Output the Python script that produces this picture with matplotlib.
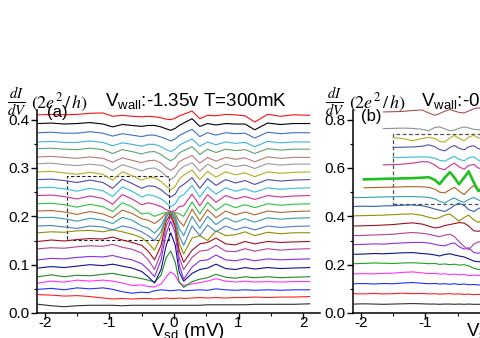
"""Stacked dI/dV traces vs source-drain bias, two panels (b is cut at the right edge)."""

import numpy as np
import matplotlib
matplotlib.use("Agg")
import matplotlib.pyplot as plt
from matplotlib.patches import Rectangle
from matplotlib.ticker import MultipleLocator, FormatStrFormatter

plt.rcParams["font.family"] = ["Liberation Sans", "DejaVu Sans"]
plt.rcParams["axes.unicode_minus"] = False
plt.rcParams["mathtext.fontset"] = "custom"
plt.rcParams["mathtext.rm"] = "Liberation Sans"
plt.rcParams["mathtext.it"] = "Liberation Sans:italic"
plt.rcParams["mathtext.bf"] = "Liberation Sans:bold"

nan = np.nan

# ---- panel (a): Vwall = -1.35 V, bottom trace first ----
vsd_a = [-2.1, -1.9, -1.7, -1.5, -1.3, -1.1, -0.95, -0.8, -0.65, -0.5,
         -0.4, -0.3, -0.2, -0.12, -0.05, 0.02, 0.08, 0.15, 0.28, 0.4,
         0.52, 0.65, 0.8, 0.95, 1.1, 1.25, 1.45, 1.65, 1.85, 2.1]

traces_a = [
    [0.018, 0.015, 0.013, 0.015, 0.016, 0.016, 0.016, 0.015, 0.016, 0.016, 0.016, 0.016, 0.016, 0.016, 0.016,
     0.016, 0.016, 0.016, 0.016, 0.016, 0.017, 0.017, 0.017, 0.017, 0.017, 0.018, 0.018, 0.018, 0.018, 0.019],
    [0.038, 0.037, 0.035, 0.036, 0.034, 0.031, 0.029, 0.030, 0.029, 0.030, 0.030, 0.029, 0.030, 0.031, 0.030,
     0.030, 0.031, 0.030, 0.031, 0.032, 0.031, 0.032, 0.031, 0.032, 0.032, 0.033, 0.032, 0.033, 0.033, 0.034],
    [0.049, 0.051, 0.048, 0.052, 0.050, 0.052, 0.049, 0.044, 0.041, 0.043, 0.042, 0.046, 0.048, 0.047, 0.046,
     0.047, 0.048, 0.046, 0.047, 0.048, 0.047, 0.050, 0.048, 0.047, 0.048, 0.047, 0.048, 0.047, 0.048, 0.048],
    [0.062, 0.066, 0.064, 0.068, 0.066, 0.068, 0.066, 0.062, 0.057, 0.058, 0.055, 0.054, 0.060, 0.075, 0.085,
     0.078, 0.062, 0.057, 0.060, 0.063, 0.066, 0.071, 0.066, 0.064, 0.066, 0.064, 0.065, 0.064, 0.065, 0.065],
    [0.075, 0.079, 0.075, 0.078, 0.077, 0.080, 0.082, 0.078, 0.075, 0.071, 0.068, 0.064, 0.078, 0.115, 0.128,
     0.105, 0.065, 0.053, 0.065, 0.070, 0.073, 0.080, 0.074, 0.072, 0.075, 0.073, 0.075, 0.073, 0.074, 0.075],
    [0.093, 0.096, 0.094, 0.097, 0.100, 0.098, 0.101, 0.097, 0.093, 0.086, 0.075, 0.062, 0.090, 0.140, 0.166,
     0.140, 0.085, 0.066, 0.082, 0.090, 0.093, 0.101, 0.092, 0.090, 0.094, 0.091, 0.094, 0.092, 0.093, 0.094],
    [0.110, 0.113, 0.112, 0.115, 0.117, 0.116, 0.119, 0.114, 0.110, 0.102, 0.090, 0.075, 0.110, 0.165, 0.190,
     0.165, 0.100, 0.070, 0.095, 0.108, 0.110, 0.120, 0.110, 0.108, 0.112, 0.108, 0.112, 0.110, 0.111, 0.112],
    [0.133, 0.135, 0.134, 0.137, 0.139, 0.138, 0.142, 0.136, 0.132, 0.124, 0.110, 0.090, 0.125, 0.180, 0.200,
     0.175, 0.115, 0.090, 0.115, 0.128, 0.130, 0.140, 0.128, 0.127, 0.133, 0.128, 0.133, 0.130, 0.132, 0.133],
    [0.148, 0.151, 0.149, 0.152, 0.154, 0.153, 0.157, 0.151, 0.146, 0.140, 0.128, 0.110, 0.140, 0.190, 0.205,
     0.180, 0.130, 0.105, 0.130, 0.143, 0.146, 0.155, 0.143, 0.141, 0.148, 0.143, 0.148, 0.146, 0.147, 0.148],
    [0.166, 0.168, 0.167, 0.170, 0.171, 0.168, 0.172, 0.168, 0.163, 0.156, 0.145, 0.130, 0.158, 0.198, 0.210,
     0.188, 0.145, 0.122, 0.155, 0.160, 0.150, 0.170, 0.160, 0.162, 0.168, 0.160, 0.167, 0.164, 0.166, 0.166],
    [0.180, 0.181, 0.178, 0.175, 0.180, 0.178, 0.172, 0.180, 0.176, 0.168, 0.160, 0.150, 0.168, 0.200, 0.210,
     0.195, 0.160, 0.140, 0.180, 0.160, 0.182, 0.168, 0.180, 0.172, 0.178, 0.172, 0.180, 0.177, 0.179, 0.180],
    [0.197, 0.198, 0.195, 0.190, 0.196, 0.192, 0.185, 0.198, 0.192, 0.180, 0.176, 0.165, 0.180, 0.203, 0.210,
     0.200, 0.175, 0.160, 0.200, 0.175, 0.200, 0.183, 0.197, 0.188, 0.195, 0.188, 0.197, 0.194, 0.196, 0.197],
    [0.211, 0.212, 0.209, 0.204, 0.210, 0.205, 0.197, 0.213, 0.206, 0.195, 0.192, 0.185, 0.195, 0.207, 0.210,
     0.205, 0.190, 0.180, 0.215, 0.190, 0.214, 0.197, 0.211, 0.203, 0.209, 0.203, 0.211, 0.208, 0.210, 0.211],
    [0.226, 0.227, 0.224, 0.219, 0.225, 0.220, 0.210, 0.228, 0.220, 0.205, 0.207, 0.200, 0.205, 0.208, 0.210,
     0.208, 0.205, 0.200, 0.230, 0.205, 0.229, 0.212, 0.226, 0.218, 0.224, 0.218, 0.226, 0.223, 0.225, 0.226],
    [0.243, 0.244, 0.241, 0.236, 0.242, 0.237, 0.225, 0.245, 0.236, 0.224, 0.228, 0.225, 0.220, 0.214, 0.210,
     0.212, 0.220, 0.222, 0.246, 0.222, 0.245, 0.229, 0.243, 0.236, 0.241, 0.235, 0.243, 0.240, 0.242, 0.243],
    [0.259, 0.260, 0.257, 0.252, 0.258, 0.253, 0.241, 0.261, 0.252, 0.240, 0.245, 0.242, 0.236, 0.228, 0.220,
     0.226, 0.240, 0.245, 0.264, 0.240, 0.261, 0.246, 0.259, 0.252, 0.257, 0.250, 0.259, 0.256, 0.258, 0.259],
    [0.276, 0.277, 0.274, 0.270, 0.275, 0.270, 0.258, 0.277, 0.268, 0.258, 0.263, 0.262, 0.255, 0.246, 0.240,
     0.246, 0.260, 0.266, 0.280, 0.258, 0.278, 0.264, 0.276, 0.269, 0.274, 0.266, 0.276, 0.273, 0.275, 0.276],
    [0.292, 0.293, 0.290, 0.287, 0.291, 0.287, 0.275, 0.292, 0.284, 0.275, 0.280, 0.280, 0.272, 0.262, 0.255,
     0.262, 0.277, 0.285, 0.296, 0.276, 0.293, 0.281, 0.292, 0.286, 0.290, 0.282, 0.292, 0.289, 0.291, 0.292],
    [0.309, 0.310, 0.307, 0.305, 0.308, 0.305, 0.295, 0.307, 0.301, 0.294, 0.299, 0.300, 0.293, 0.283, 0.276,
     0.283, 0.296, 0.303, 0.311, 0.293, 0.308, 0.298, 0.308, 0.303, 0.306, 0.299, 0.309, 0.306, 0.308, 0.308],
    [0.323, 0.324, 0.322, 0.320, 0.323, 0.320, 0.312, 0.321, 0.316, 0.311, 0.315, 0.316, 0.310, 0.301, 0.295,
     0.301, 0.313, 0.318, 0.326, 0.310, 0.322, 0.314, 0.322, 0.318, 0.321, 0.313, 0.323, 0.320, 0.322, 0.322],
    [0.340, 0.341, 0.339, 0.338, 0.341, 0.338, 0.330, 0.338, 0.334, 0.329, 0.333, 0.334, 0.328, 0.320, 0.315,
     0.321, 0.331, 0.336, 0.344, 0.328, 0.339, 0.332, 0.339, 0.336, 0.338, 0.330, 0.340, 0.337, 0.339, 0.339],
    [0.354, 0.355, 0.353, 0.353, 0.356, 0.353, 0.346, 0.352, 0.349, 0.345, 0.349, 0.349, 0.344, 0.338, 0.334,
     0.339, 0.347, 0.352, 0.360, 0.345, 0.354, 0.348, 0.354, 0.351, 0.353, 0.344, 0.355, 0.352, 0.354, 0.354],
    [0.373, 0.374, 0.372, 0.372, 0.375, 0.372, 0.366, 0.371, 0.368, 0.365, 0.368, 0.368, 0.364, 0.360, 0.356,
     0.360, 0.367, 0.372, 0.380, 0.365, 0.373, 0.368, 0.373, 0.371, 0.372, 0.362, 0.374, 0.371, 0.373, 0.373],
    [0.392, 0.393, 0.391, 0.392, 0.394, 0.391, 0.385, 0.390, 0.388, 0.386, 0.388, 0.388, 0.385, 0.381, 0.378,
     0.382, 0.388, 0.393, 0.402, 0.386, 0.392, 0.389, 0.392, 0.391, 0.391, 0.379, 0.393, 0.390, 0.392, 0.392],
    [0.410, 0.411, 0.410, 0.411, 0.413, 0.414, 0.407, 0.409, 0.407, 0.406, 0.407, 0.406, 0.404, 0.401, 0.400,
     0.403, 0.408, 0.411, 0.418, 0.402, 0.409, 0.408, 0.411, 0.410, 0.408, 0.395, 0.411, 0.407, 0.410, 0.409],
]

colors_a = ["#303030", "#ff2020", "#2030ff", "#ff30ff", "#208a20", "#101090", "#8a2be2", "#b040a0",
            "#a01020", "#909000", "#4a7fc0", "#3a9aa8", "#b0682a", "#30c040", "#d03090", "#30c0d8",
            "#4a4ab0", "#b0b020", "#9a9a9a", "#b87a7a", "#60a070", "#40b0e0", "#3f6fc8", "#000000",
            "#ff1010"]

# ---- panel (b) ----
vsd_b = [-2.1, -1.95, -1.8, -1.65, -1.5, -1.35, -1.2, -1.05, -0.95, -0.85,
         -0.78, -0.7, -0.62, -0.55, -0.48, -0.4, -0.33, -0.25, -0.18, -0.1]

traces_b = [
    [0.037, 0.038, 0.037, 0.036, 0.037, 0.038, 0.039, 0.038, 0.037, 0.037, 0.036, 0.037, 0.037, 0.036, 0.037, 0.036, 0.037, 0.036, 0.036, 0.036],
    [0.080, 0.079, 0.081, 0.079, 0.080, 0.082, 0.080, 0.081, 0.079, 0.080, 0.078, 0.079, 0.080, 0.078, 0.079, 0.077, 0.078, 0.076, 0.077, 0.076],
    [0.121, 0.122, 0.120, 0.122, 0.121, 0.124, 0.126, 0.123, 0.121, 0.122, 0.120, 0.121, 0.119, 0.121, 0.118, 0.120, 0.117, 0.118, 0.116, 0.117],
    [0.162, 0.163, 0.162, 0.164, 0.165, 0.168, 0.170, 0.166, 0.163, 0.164, 0.161, 0.162, 0.159, 0.161, 0.158, 0.160, 0.155, 0.157, 0.155, 0.156],
    [0.204, 0.205, 0.207, 0.206, 0.205, 0.207, 0.208, 0.206, 0.204, 0.205, 0.201, 0.203, 0.200, 0.202, 0.198, 0.200, 0.195, 0.185, 0.180, 0.182],
    [0.243, 0.244, 0.246, 0.245, 0.247, 0.249, 0.250, 0.246, 0.244, 0.240, 0.236, 0.242, 0.245, 0.240, 0.236, 0.232, 0.224, 0.215, 0.212, 0.216],
    [0.283, 0.284, 0.286, 0.285, 0.288, 0.290, 0.292, 0.292, 0.290, 0.284, 0.280, 0.278, 0.286, 0.290, 0.275, 0.264, 0.270, 0.250, 0.247, 0.255],
    [0.320, 0.321, 0.323, 0.324, 0.326, 0.330, 0.333, 0.330, 0.326, 0.320, 0.316, 0.322, 0.326, 0.316, 0.296, 0.275, 0.262, 0.285, 0.295, 0.290],
    [0.360, 0.361, 0.362, 0.364, 0.366, 0.370, 0.373, 0.368, 0.360, 0.352, 0.355, 0.362, 0.366, 0.370, 0.374, 0.372, 0.360, 0.340, 0.338, 0.345],
    [0.402, 0.403, 0.404, 0.405, 0.407, 0.409, 0.410, 0.404, 0.396, 0.390, 0.395, 0.405, 0.410, 0.395, 0.380, 0.395, 0.405, 0.385, 0.375, 0.385],
    [0.441, 0.442, 0.441, 0.443, 0.444, 0.446, 0.447, 0.444, 0.438, 0.430, 0.425, 0.420, 0.432, 0.445, 0.455, 0.445, 0.428, 0.420, 0.432, 0.440],
    [0.478, 0.478, 0.479, 0.480, 0.481, 0.482, 0.482, 0.480, 0.478, 0.472, 0.462, 0.455, 0.468, 0.476, 0.465, 0.458, 0.470, 0.478, 0.468, 0.460],
    [nan, 0.518, 0.519, 0.520, 0.521, 0.522, 0.523, 0.522, 0.520, 0.512, 0.500, 0.497, 0.510, 0.520, 0.505, 0.490, 0.510, 0.528, 0.505, 0.495],
    [nan, 0.553, 0.554, 0.555, 0.556, 0.557, 0.558, 0.560, 0.562, 0.550, 0.533, 0.560, 0.583, 0.560, 0.533, 0.560, 0.586, 0.540, 0.505, 0.520],
    [nan, nan, nan, 0.613, 0.614, 0.616, 0.620, 0.626, 0.625, 0.612, 0.598, 0.593, 0.610, 0.620, 0.605, 0.595, 0.610, 0.615, 0.600, 0.595],
    [nan, nan, nan, nan, 0.643, 0.644, 0.645, 0.646, 0.645, 0.640, 0.632, 0.628, 0.640, 0.648, 0.636, 0.630, 0.642, 0.646, 0.632, 0.630],
    [nan, nan, nan, nan, 0.685, 0.686, 0.687, 0.690, 0.696, 0.688, 0.676, 0.671, 0.685, 0.693, 0.682, 0.675, 0.688, 0.692, 0.680, 0.678],
    [nan, nan, nan, nan, 0.725, 0.722, 0.713, 0.722, 0.727, 0.722, 0.710, 0.707, 0.725, 0.735, 0.722, 0.713, 0.728, 0.735, 0.725, 0.720],
    [nan, nan, nan, 0.763, 0.764, 0.765, 0.764, 0.760, 0.754, 0.768, 0.770, 0.762, 0.754, 0.757, 0.764, 0.770, 0.766, 0.760, 0.758, 0.762],
    [nan, nan, nan, 0.832, 0.833, 0.834, 0.838, 0.840, 0.828, 0.818, 0.825, 0.835, 0.842, 0.836, 0.830, 0.828, 0.836, 0.845, 0.849, 0.845],
]

colors_b = ["#303030", "#ff2020", "#2030ff", "#ff30ff", "#20a020", "#101090", "#9030e0", "#b040a0",
            "#a01020", "#909000", "#3060b0", "#30a0b0", "#b06020", "#20c020", "#d03090", "#30c0d0",
            "#5050b0", "#b0b020", "#909090", "#b05050"]
thick_b = 13

# zoom boxes (mV, 2e^2/h)
box_a_x = [-1.65, -0.08]
box_a_y = [0.151, 0.284]
box_b_x = [-1.5, 0.6]
box_b_y = [0.452, 0.742]

W, H = 480, 338
fig = plt.figure(figsize=(W / 100, H / 100), dpi=100)
xlim = (-2.12, 2.26)
ax_w = 283 / W
ax_h = 203 / H
ax_a = fig.add_axes([37 / W, 25 / H, ax_w, ax_h])
ax_b = fig.add_axes([353 / W, 25 / H, ax_w, ax_h])

for ax, xs, traces, colors, ymax, ymaj, ymin in [
    (ax_a, vsd_a, traces_a, colors_a, 0.42, 0.1, 0.05),
    (ax_b, vsd_b, traces_b, colors_b, 0.84, 0.2, 0.1),
]:
    for i, (ys, c) in enumerate(zip(traces, colors)):
        lw = 1.9 if (ax is ax_b and i == thick_b) else 0.8
        ax.plot(xs, ys, color=c, lw=lw, clip_on=False)
    ax.set_xlim(*xlim)
    ax.set_ylim(0, ymax)
    for s in ("top", "right"):
        ax.spines[s].set_visible(False)
    for s in ("left", "bottom"):
        ax.spines[s].set_linewidth(1.1)
    ax.xaxis.set_major_locator(MultipleLocator(1))
    ax.xaxis.set_minor_locator(MultipleLocator(0.5))
    ax.yaxis.set_major_locator(MultipleLocator(ymaj))
    ax.yaxis.set_minor_locator(MultipleLocator(ymin))
    ax.yaxis.set_major_formatter(FormatStrFormatter("%.1f"))
    ax.tick_params(which="major", direction="out", length=4, width=1, labelsize=11)
    ax.tick_params(axis="x", which="major", pad=-1.5)
    ax.tick_params(axis="y", which="major", pad=1.5)
    ax.tick_params(which="minor", direction="out", length=2.5, width=0.8)

ax_a.add_patch(Rectangle((box_a_x[0], box_a_y[0]), box_a_x[1] - box_a_x[0], box_a_y[1] - box_a_y[0],
                         fill=False, ec="#202020", lw=0.8, ls=(0, (3, 2))))
ax_b.add_patch(Rectangle((box_b_x[0], box_b_y[0]), box_b_x[1] - box_b_x[0], box_b_y[1] - box_b_y[0],
                         fill=False, ec="#505050", lw=0.9, ls=(0, (3, 2))))


def px(x, y):
    return x / W, 1 - y / H


for x0 in (0, 318):
    fig.text(*px(x0 + 17, 102), r"$\frac{dI}{dV}$", ha="center", va="center",
             fontsize=15, math_fontfamily="stix")
    fig.text(*px(x0 + 31, 103), r"$(2e^2\,/\,h)$", ha="left", va="center",
             fontsize=13, math_fontfamily="stix")

fig.text(*px(105, 101), r"V$_{\mathrm{wall}}$:-1.35v T=300mK", ha="left", va="center", fontsize=13.5)
fig.text(*px(421, 101), r"V$_{\mathrm{wall}}$:-0", ha="left", va="center", fontsize=13.5)
fig.text(*px(47, 113), "(a)", ha="left", va="center", fontsize=12)
fig.text(*px(361, 117), "(b)", ha="left", va="center", fontsize=12)
fig.text(*px(151, 331), r"V$_{\mathrm{sd}}$ (mV)", ha="left", va="center", fontsize=13.5)
fig.text(*px(466, 331), r"V$_{\mathrm{sd}}$ (mV)", ha="left", va="center", fontsize=13.5)

fig.savefig("out.png", dpi=100)
